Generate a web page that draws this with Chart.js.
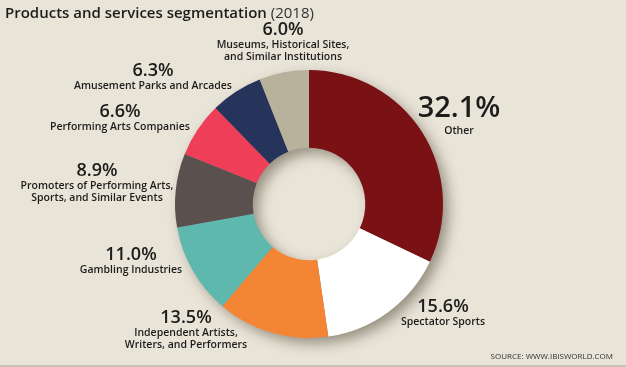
<!DOCTYPE html>
<html>
<head>
<meta charset="utf-8">
<script src="https://cdn.jsdelivr.net/npm/chart.js@4/dist/chart.umd.min.js"></script>
<style>
  html, body { margin: 0; padding: 0; background: #e9e4d8; }
  canvas { display: block; }
</style>
</head>
<body>
<canvas id="myChart" width="626" height="367"></canvas>
<script>
// segments, clockwise from 12 o'clock
const categories = [
    ['Other'],
    ['Spectator Sports'],
    ['Independent Artists,', 'Writers, and Performers'],
    ['Gambling Industries'],
    ['Promoters of Performing Arts,', 'Sports, and Similar Events'],
    ['Performing Arts Companies'],
    ['Amusement Parks and Arcades'],
    ['Museums, Historical Sites,', 'and Similar Institutions']
];
const shares = [32.1, 15.6, 13.5, 11.0, 8.9, 6.6, 6.3, 6.0];
const colors = ['#7a1115', '#ffffff', '#f38534', '#5fb8ae', '#5a504d', '#ef3f58', '#26335a', '#b8b19b'];

// where each label sits (center of the percentage text)
const labelPos = [[459, 109], [443, 307], [186, 318], [131, 255], [97, 171], [120, 112], [153, 71], [283, 30]];
const bg = '#e9e4d8';
const ink = '#1c1c1a';

const ctx = document.getElementById('myChart').getContext('2d');

const backdrop = {
    id: 'backdrop',
    beforeDraw: (chart) => {
        const c = chart.ctx;
        c.save();
        c.fillStyle = bg;
        c.fillRect(0, 0, chart.width, chart.height);
        c.fillStyle = '#c8c2b2';
        c.fillRect(0, chart.height - 2, chart.width, 2);
        // title
        c.fillStyle = ink;
        c.textBaseline = 'alphabetic';
        c.textAlign = 'left';
        c.font = '600 15px "Open Sans"';
        const t = 'Products and services segmentation ';
        c.fillText(t, 5, 18);
        const w = c.measureText(t).width;
        c.font = '15px "Open Sans"';
        c.fillStyle = '#333';
        c.fillText('(2018)', 5 + w, 18);
        // source
        c.font = '8px "Open Sans"';
        c.textAlign = 'right';
        c.fillText('SOURCE: WWW.IBISWORLD.COM', 613, 359);
        c.restore();
    },
    beforeDatasetsDraw: (chart) => {
        // ring-shaped drop shadow under the doughnut
        const arc = chart.getDatasetMeta(0).data[0];
        const c = chart.ctx;
        c.save();
        c.shadowColor = 'rgba(40, 30, 10, 0.45)';
        c.shadowBlur = 14;
        c.shadowOffsetX = 6;
        c.shadowOffsetY = 6;
        c.fillStyle = '#888';
        c.beginPath();
        c.arc(arc.x, arc.y, arc.outerRadius - 1, 0, Math.PI * 2);
        c.arc(arc.x, arc.y, arc.innerRadius + 1, 0, Math.PI * 2, true);
        c.fill();
        c.restore();
    },
    afterDraw: (chart) => {
        const c = chart.ctx;
        c.save();
        c.fillStyle = ink;
        c.textAlign = 'center';
        c.textBaseline = 'middle';
        shares.forEach((v, i) => {
            const [x, y] = labelPos[i];
            const big = i === 0;
            c.font = (big ? '600 29px' : '600 18px') + ' "Open Sans"';
            c.fillText(v.toFixed(1) + '%', x, y);
            c.font = '600 10.5px "Open Sans"';
            let ly = y + (big ? 22 : 15);
            categories[i].forEach(line => {
                c.fillText(line, x, ly);
                ly += 12;
            });
        });
        c.restore();
    }
};

const myChart = new Chart(ctx, {
    type: 'doughnut',
    data: {
        labels: categories.map(l => l.join(' ')),
        datasets: [{
            data: shares,
            backgroundColor: colors,
            borderWidth: 0
        }]
    },
    options: {
        responsive: false,
        animation: false,
        cutout: '42%',
        layout: {
            padding: { top: 70, bottom: 29, left: 0, right: 8 }
        },
        plugins: {
            legend: { display: false },
            tooltip: { enabled: false }
        }
    },
    plugins: [backdrop]
});
</script>
</body>
</html>
